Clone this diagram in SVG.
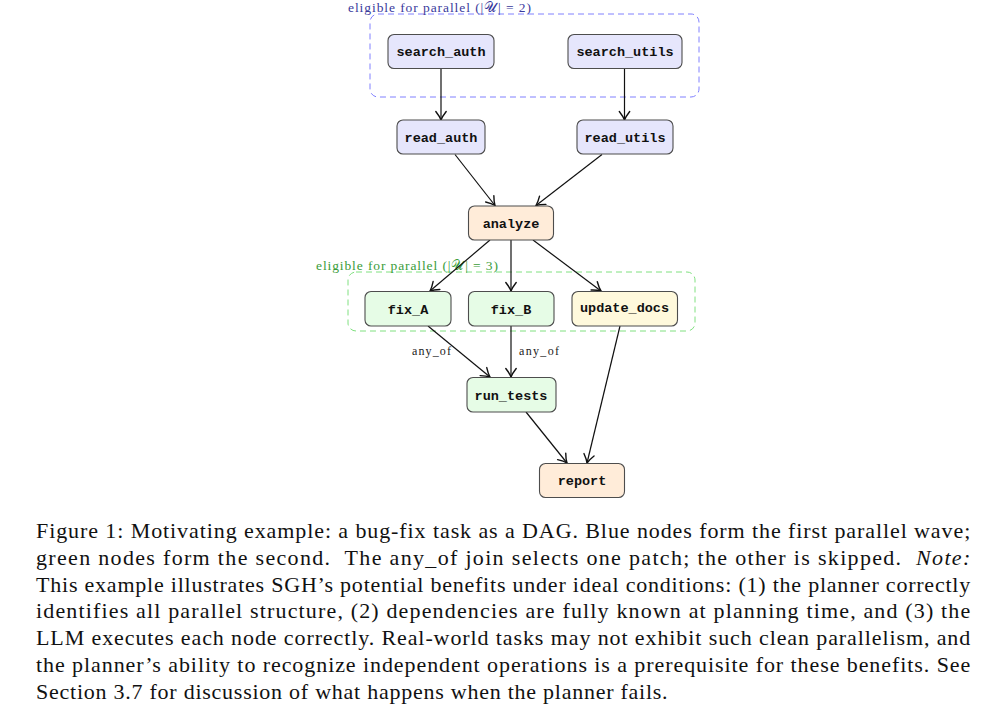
<svg xmlns="http://www.w3.org/2000/svg" width="995" height="716" viewBox="0 0 995 716">
<style>
.node rect{stroke:#4d4d4d;stroke-width:1.1}
.node text{font-family:"Liberation Mono","DejaVu Sans Mono",monospace;font-size:13.5px;font-weight:bold;fill:#111;text-anchor:middle}
.blue rect{fill:#e6e6fc}
.orange rect{fill:#ffecd9}
.green rect{fill:#e6fce6}
.yellow rect{fill:#fff9dc}
.edges line{stroke:#111;stroke-width:1.2;marker-end:url(#arr)}
.grp{fill:none;stroke-width:1;stroke-dasharray:6 4}
.glabel{font-family:"Liberation Serif","DejaVu Serif",serif;font-size:13.5px}
.elabel{font-family:"Liberation Serif","DejaVu Serif",serif;font-size:12px;fill:#222}
.cap{font-family:"Liberation Serif","DejaVu Serif",serif;font-size:22px;letter-spacing:0.75px;fill:#111}
</style>
<defs>
<marker id="arr" markerUnits="userSpaceOnUse" markerWidth="14" markerHeight="14" viewBox="-10 -7 11 14" refX="0" refY="0" orient="auto">
<path d="M-8.5,-5.2 Q-3.5,-1.3 0,0 Q-3.5,1.3 -8.5,5.2" fill="none" stroke="#111" stroke-width="1.4" stroke-linecap="round"/>
</marker>
</defs>
<rect width="995" height="716" fill="#fff"/>
<g id="group-wave1">
<rect class="grp" x="370" y="14" width="329" height="83" rx="8" stroke="#8080ff"/>
<text class="glabel" x="348" y="12" fill="#3a3a9c" textLength="183" lengthAdjust="spacing">eligible for parallel (|𝒰| = 2)</text>
</g>
<g id="group-wave2">
<rect class="grp" x="348" y="272" width="347" height="59" rx="8" stroke="#80e080"/>
<text class="glabel" x="316" y="270" fill="#3a9c3a" textLength="182" lengthAdjust="spacing">eligible for parallel (|𝒰| = 3)</text>
</g>
<g class="edges" id="connectors">
<line x1="441" y1="68.5" x2="441" y2="120"/>
<line x1="624.5" y1="68.5" x2="624.5" y2="120"/>
<line x1="455" y1="154.5" x2="495" y2="205.5"/>
<line x1="602" y1="154.5" x2="536" y2="205.5"/>
<line x1="490" y1="240" x2="430" y2="291"/>
<line x1="511" y1="240" x2="511" y2="291"/>
<line x1="533" y1="240" x2="601" y2="291"/>
<line x1="428" y1="326" x2="490" y2="377"/>
<line x1="511" y1="326" x2="511" y2="377"/>
<line x1="526" y1="412" x2="567" y2="463"/>
<line x1="620" y1="326" x2="587" y2="463"/>
<text class="elabel" x="412" y="355" textLength="39" lengthAdjust="spacing">any_of</text>
<text class="elabel" x="519" y="355" textLength="40" lengthAdjust="spacing">any_of</text>
</g>
<g id="search_auth" class="node blue"><rect x="388" y="34.5" width="106" height="34" rx="6"/><text x="441" y="56">search_auth</text></g>
<g id="search_utils" class="node blue"><rect x="568" y="34.5" width="114" height="34" rx="6"/><text x="625" y="56">search_utils</text></g>
<g id="read_auth" class="node blue"><rect x="397" y="120" width="88" height="34" rx="6"/><text x="441" y="141.5">read_auth</text></g>
<g id="read_utils" class="node blue"><rect x="577" y="120" width="96" height="34" rx="6"/><text x="625" y="141.5">read_utils</text></g>
<g id="analyze" class="node orange"><rect x="468.5" y="206" width="85" height="34" rx="6"/><text x="511" y="227.5">analyze</text></g>
<g id="fix_A" class="node green"><rect x="365" y="291.5" width="86" height="34.5" rx="6"/><text x="408" y="313.5">fix_A</text></g>
<g id="fix_B" class="node green"><rect x="468.5" y="291.5" width="85.5" height="34.5" rx="6"/><text x="511" y="313.5">fix_B</text></g>
<g id="update_docs" class="node yellow"><rect x="572" y="291.5" width="105.5" height="34.5" rx="6"/><text x="624.5" y="312">update_docs</text></g>
<g id="run_tests" class="node green"><rect x="467" y="377.5" width="89" height="34.5" rx="6"/><text x="511" y="399.5">run_tests</text></g>
<g id="report" class="node orange"><rect x="539.5" y="463.5" width="85" height="34" rx="6"/><text x="582" y="485">report</text></g>
<g id="caption">
<text class="cap" x="36" y="538" textLength="935" lengthAdjust="spacing">Figure 1: Motivating example: a bug-fix task as a DAG. Blue nodes form the first parallel wave;</text>
<text class="cap" x="36" y="565" textLength="935" lengthAdjust="spacing" xml:space="preserve">green nodes form the second.  The any_of join selects one patch; the other is skipped.  <tspan font-style="italic">Note:</tspan></text>
<text class="cap" x="36" y="591.5" textLength="935" lengthAdjust="spacing">This example illustrates SGH’s potential benefits under ideal conditions: (1) the planner correctly</text>
<text class="cap" x="36" y="618.3" textLength="935" lengthAdjust="spacing">identifies all parallel structure, (2) dependencies are fully known at planning time, and (3) the</text>
<text class="cap" x="36" y="645.1" textLength="935" lengthAdjust="spacing">LLM executes each node correctly. Real-world tasks may not exhibit such clean parallelism, and</text>
<text class="cap" x="36" y="671.9" textLength="935" lengthAdjust="spacing">the planner’s ability to recognize independent operations is a prerequisite for these benefits. See</text>
<text class="cap" x="36" y="698.7">Section 3.7 for discussion of what happens when the planner fails.</text>
</g>
</svg>
